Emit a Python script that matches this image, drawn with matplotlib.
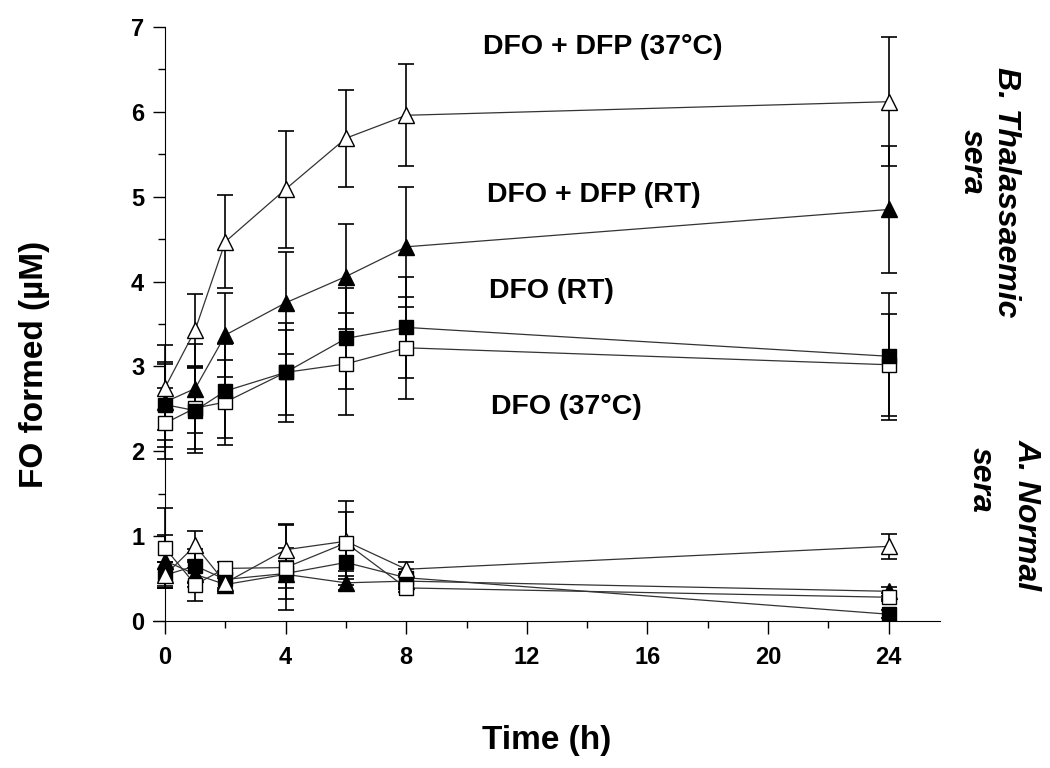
import matplotlib.pyplot as plt
import numpy as np
from matplotlib.ticker import MultipleLocator

plt.rcParams['font.family'] = ['Liberation Sans', 'DejaVu Sans']

time = [0, 1, 2, 4, 6, 8, 24]

# thalassaemic sera
thal_dfp37 = [2.75, 3.43, 4.47, 5.09, 5.69, 5.96, 6.12]
thal_dfp37_err = [0.5, 0.42, 0.55, 0.69, 0.57, 0.6, 0.76]
thal_dfprt = [2.58, 2.74, 3.37, 3.75, 4.06, 4.41, 4.85]
thal_dfprt_err = [0.45, 0.53, 0.5, 0.6, 0.62, 0.71, 0.75]
thal_dfort = [2.55, 2.48, 2.71, 2.93, 3.33, 3.46, 3.12]
thal_dfort_err = [0.5, 0.5, 0.55, 0.5, 0.6, 0.6, 0.75]
thal_dfo37 = [2.33, 2.51, 2.58, 2.93, 3.03, 3.22, 3.02]
thal_dfo37_err = [0.42, 0.48, 0.5, 0.58, 0.6, 0.6, 0.6]

# normal sera
norm_dfp37 = [0.54, 0.89, 0.45, 0.84, 0.94, 0.61, 0.88]
norm_dfp37_err = [0.15, 0.17, 0.08, 0.3, 0.35, 0.08, 0.15]
norm_dfprt = [0.71, 0.55, 0.43, 0.55, 0.45, 0.47, 0.35]
norm_dfprt_err = [0.3, 0.15, 0.08, 0.16, 0.08, 0.08, 0.05]
norm_dfort = [0.54, 0.65, 0.49, 0.56, 0.69, 0.51, 0.08]
norm_dfort_err = [0.15, 0.2, 0.1, 0.3, 0.2, 0.1, 0.05]
norm_dfo37 = [0.86, 0.43, 0.62, 0.63, 0.92, 0.39, 0.28]
norm_dfo37_err = [0.47, 0.2, 0.08, 0.5, 0.5, 0.05, 0.05]

# drawn bottom to top
series = [
    (thal_dfprt, thal_dfprt_err, '^', 'black'),
    (thal_dfp37, thal_dfp37_err, '^', 'white'),
    (thal_dfo37, thal_dfo37_err, 's', 'white'),
    (thal_dfort, thal_dfort_err, 's', 'black'),
    (norm_dfprt, norm_dfprt_err, '^', 'black'),
    (norm_dfort, norm_dfort_err, 's', 'black'),
    (norm_dfp37, norm_dfp37_err, '^', 'white'),
    (norm_dfo37, norm_dfo37_err, 's', 'white'),
]

fig = plt.figure(figsize=(10.5, 7.68), dpi=100)
ax = fig.add_axes([0.1457, 0.1914, 0.7495, 0.7734])

for i, (y, err, mk, fc) in enumerate(series):
    ax.errorbar(time, y, yerr=err, fmt='none', ecolor='black', elinewidth=1.2,
                capsize=6, capthick=1.2, zorder=2)
    ax.plot(time, y, color='#333333', lw=0.9, zorder=3)
    ax.plot(time, y, linestyle='none', marker=mk, markersize=10 if mk == 's' else 11,
            markerfacecolor=fc, markeredgecolor='black', markeredgewidth=1.0, zorder=4 + i * 0.1)

ax.set_xlim(-0.4, 25.7)
ax.set_ylim(0, 7)
ax.spines['top'].set_visible(False)
ax.spines['right'].set_visible(False)
ax.spines['left'].set_position(('data', 0))
ax.spines['left'].set_bounds(0, 7)

ax.set_xticks([0, 4, 8, 12, 16, 20, 24])
ax.xaxis.set_minor_locator(MultipleLocator(2))
ax.yaxis.set_major_locator(MultipleLocator(1))
ax.yaxis.set_minor_locator(MultipleLocator(0.5))
ax.tick_params(which='major', direction='out', length=9, width=1, labelsize=17)
ax.tick_params(which='minor', direction='out', length=5, width=1)
ax.tick_params(axis='x', which='major', pad=9)
ax.tick_params(axis='y', which='major', pad=6)
for lab in ax.get_xticklabels() + ax.get_yticklabels():
    lab.set_fontweight('bold')
    lab.set_family(['Liberation Sans Narrow', 'Liberation Sans'])

ax.set_xlabel('Time (h)', fontsize=24, fontweight='bold', labelpad=40)
fig.text(0.033, 0.526, 'FO formed (µM)', rotation=90, fontsize=24, fontweight='bold',
         ha='center', va='center')

ann_size = 20.5
ax.text(14.52, 6.76, 'DFO + DFP (37°C)', fontsize=ann_size, fontweight='bold', ha='center', va='center')
ax.text(14.22, 5.02, 'DFO + DFP (RT)', fontsize=ann_size, fontweight='bold', ha='center', va='center')
ax.text(12.83, 3.89, 'DFO (RT)', fontsize=ann_size, fontweight='bold', ha='center', va='center')
ax.text(13.32, 2.52, 'DFO (37°C)', fontsize=ann_size, fontweight='bold', ha='center', va='center')

side_size = 23
fig.text(1006 / 1050, 1 - 192 / 768, 'B. Thalassaemic', rotation=270, fontsize=side_size,
         fontweight='bold', style='italic', ha='center', va='center')
fig.text(972 / 1050, 1 - 162 / 768, 'sera', rotation=270, fontsize=side_size,
         fontweight='bold', style='italic', ha='center', va='center')
fig.text(1027 / 1050, 1 - 515 / 768, 'A. Normal', rotation=270, fontsize=side_size,
         fontweight='bold', style='italic', ha='center', va='center')
fig.text(981 / 1050, 1 - 480 / 768, 'sera', rotation=270, fontsize=side_size,
         fontweight='bold', style='italic', ha='center', va='center')

fig.savefig('out.png', dpi=100)
